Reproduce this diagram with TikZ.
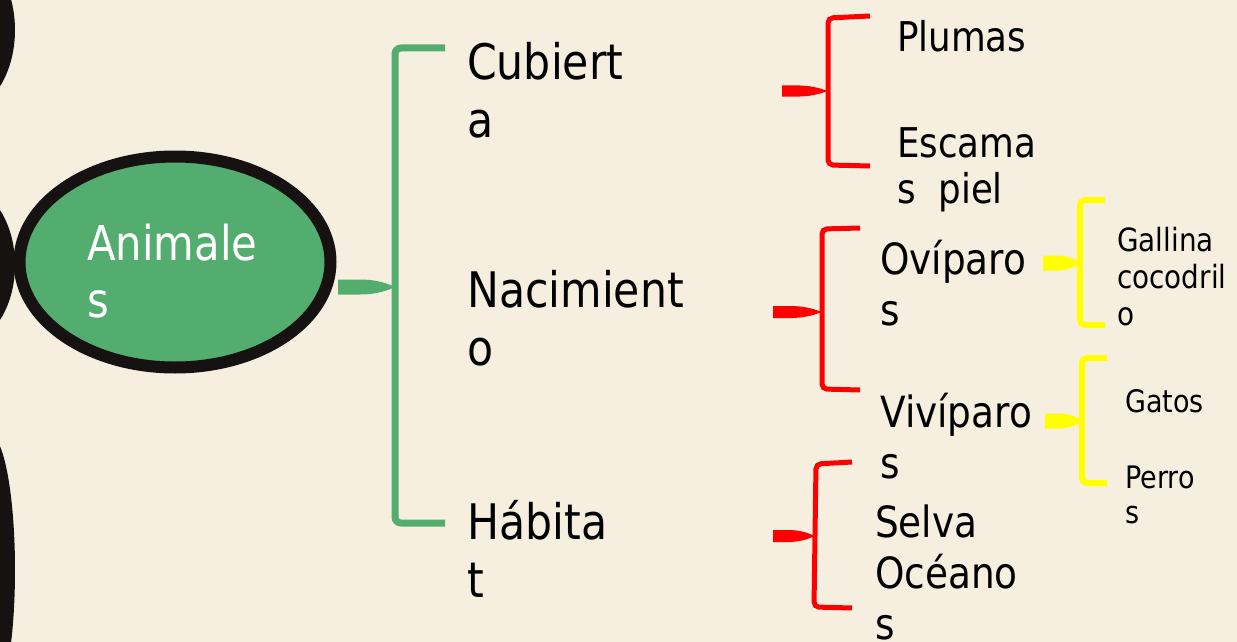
\documentclass[tikz,border=0pt]{standalone}
\usepackage{fontspec}
\setmainfont{DejaVu Sans}[FakeStretch=0.87]
\usetikzlibrary{shapes.geometric}
\definecolor{bgc}{RGB}{246,239,224}
\definecolor{grn}{RGB}{82,173,110}
\definecolor{redb}{RGB}{255,0,0}
\definecolor{yelb}{RGB}{255,255,0}
\definecolor{blk}{RGB}{22,18,17}
\tikzset{
  lbl/.style={anchor=base west, inner sep=0pt, align=left, text=black},
  bigtxt/.style={lbl, font=\fontsize{49}{58}\selectfont},
  midtxt/.style={lbl, font=\fontsize{43}{51}\selectfont},
  smltxt/.style={lbl, font=\fontsize{41}{46}\selectfont},
  tinytxt/.style={lbl, font=\fontsize{32}{37}\selectfont},
  gbrace/.style={draw=grn, line width=7pt, rounded corners=6pt},
  rbrace/.style={draw=redb, line width=5pt, rounded corners=5pt},
  ybrace/.style={draw=yelb, line width=6pt, rounded corners=5pt},
}
\begin{document}
\begin{tikzpicture}[x=1pt,y=-1pt]
\useasboundingbox (0,0) rectangle (1237,642);
\fill[bgc] (0,0) rectangle (1237,642);
% black blobs at left edge
\fill[blk] (-40,30) ellipse [x radius=55, y radius=82];
\fill[blk] (-40,265) ellipse [x radius=55, y radius=80];
\fill[blk] (-10,570) ellipse [x radius=25, y radius=135];
% central ellipse
\node[ellipse, draw=blk, fill=grn, line width=12pt, minimum width=311pt, minimum height=211pt, inner sep=0pt] (animales) at (175,262) {};
% (multi-line nodes: base anchor = baseline of last line)
\node[lbl, text=white, font=\fontsize{48}{57}\selectfont] (animtxt) at (87,317) {Animale\\s};
% level 1 texts
\node[bigtxt] (cub) at (467,137) {Cubiert\\a};
\node[bigtxt] (nac) at (467,365) {Nacimient\\o};
\node[bigtxt] (hab) at (467,597) {Hábita\\t};
% green brace
\coordinate (g0) at (338,287);
\coordinate (gm) at (395,287);
\coordinate (gt) at (445,48);
\coordinate (gb) at (445,523);
\draw[gbrace] (gt) -- (395,48) -- (395,523) -- (gb);
\fill[grn] (338,279.5) -- (360,279.5) .. controls (378,279.5) and (388,284) .. (gm) .. controls (388,290) and (378,294.5) .. (360,294.5) -- (338,294.5) -- cycle;
% level 2 texts
\node[smltxt] (plumas) at (897,52) {Plumas};
\node[smltxt] (escamas) at (897,203) {Escama\\s\ \ piel};
\node[midtxt] (ovi) at (880,325) {Ovíparo\\s};
\node[midtxt] (vivi) at (880,478) {Vivíparo\\s};
\node[midtxt] (selva) at (875,639) {Selva\\Océano\\s};
% red brace 1
\coordinate (r1t) at (870,16);
\coordinate (r1b) at (870,166);
\coordinate (r1m) at (828,91);
\draw[rbrace] (r1t) -- (828,18) -- (828,165) -- (r1b);
\fill[redb] (782,85.5) -- (800,85.5) .. controls (814,86) and (822,89) .. (r1m) .. controls (822,93) and (814,96) .. (800,96.5) -- (782,96.5) -- cycle;
% red brace 2
\coordinate (r2t) at (860,228);
\coordinate (r2b) at (860,390);
\coordinate (r2m) at (822,312);
\draw[rbrace] (r2t) -- (822,229) -- (822,389) -- (r2b);
\fill[redb] (773,306) -- (793,306) .. controls (808,306.5) and (816,310) .. (r2m) .. controls (816,314) and (808,317.5) .. (793,318) -- (773,318) -- cycle;
% red brace 3
\coordinate (r3t) at (852,462);
\coordinate (r3b) at (852,608);
\coordinate (r3m) at (815,536);
\draw[rbrace] (r3t) -- (816,464) -- (814,607) -- (r3b);
\fill[redb] (773,530) -- (790,530) .. controls (803,530.5) and (810,534) .. (r3m) .. controls (810,538) and (803,541.5) .. (790,542) -- (773,542) -- cycle;
% level 3 texts
\node[tinytxt] (gallina) at (1117,325) {Gallina\\cocodril\\o};
\node[tinytxt, font=\fontsize{31}{35}\selectfont] (gatos) at (1125,412) {Gatos};
\node[tinytxt, font=\fontsize{31}{35}\selectfont] (perros) at (1125,523) {Perro\\s};
% yellow brace 1
\coordinate (y1t) at (1105,200);
\coordinate (y1b) at (1105,325);
\coordinate (y1m) at (1080,263);
\draw[ybrace] (y1t) -- (1080,200) -- (1080,325) -- (y1b);
\fill[yelb] (1043,255.5) -- (1058,255.5) .. controls (1070,256) and (1076,260) .. (y1m) .. controls (1076,266) and (1070,270) .. (1058,270.5) -- (1043,270.5) -- cycle;
% yellow brace 2
\coordinate (y2t) at (1107,358);
\coordinate (y2b) at (1107,483);
\coordinate (y2m) at (1082,421);
\draw[ybrace] (y2t) -- (1082,358) -- (1082,483) -- (y2b);
\fill[yelb] (1045,413.5) -- (1060,413.5) .. controls (1072,414) and (1078,418) .. (y2m) .. controls (1078,424) and (1072,428) .. (1060,428.5) -- (1045,428.5) -- cycle;
\end{tikzpicture}
\end{document}
